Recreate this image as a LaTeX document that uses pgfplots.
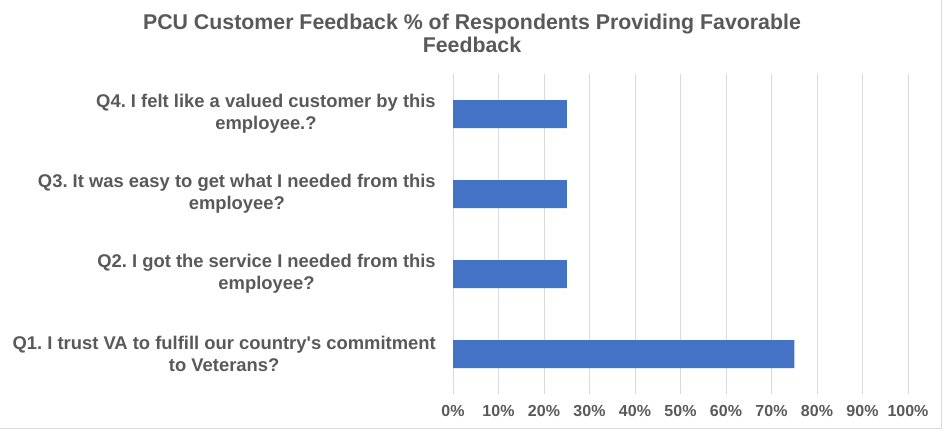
\documentclass[border=0pt]{standalone}
\usepackage{pgfplots}
\pgfplotsset{compat=1.18}
\usepackage{fontspec}
\setmainfont{Liberation Sans}
\frenchspacing
\definecolor{txt}{HTML}{595959}
\definecolor{grd}{HTML}{D9D9D9}
\definecolor{barc}{HTML}{4472C4}
\begin{document}
\begin{tikzpicture}[x=0.75pt,y=0.75pt]
\path[use as bounding box] (0,0) rectangle (944,430);
\draw[grd, line width=0.75pt] (941,430) -- (941,2) -- (0,2);
\node[font=\bfseries\fontsize{16}{17.5}\selectfont, text=txt, align=center] at (472,396.5) {PCU Customer Feedback \% of Respondents Providing Favorable\\Feedback};
\begin{axis}[
  at={(339.75pt,27pt)}, anchor=south west, scale only axis,
  width=341.25pt, height=240pt,
  xbar, bar width=21pt,
  xmin=0, xmax=100, ymin=-0.5, ymax=3.5,
  ytick={0,1,2,3},
  yticklabels={{Q1. I trust VA to fulfill our country\textquotesingle s commitment\\to Veterans?},
               {Q2. I got the service I needed from this\\employee?},
               {Q3. It was easy to get what I needed from this\\employee?},
               {Q4. I felt like a valued customer by this\\employee.?}},
  xtick={0,10,...,100},
  xticklabels={0\%,10\%,20\%,30\%,40\%,50\%,60\%,70\%,80\%,90\%,100\%},
  xmajorgrids, grid style={grd, line width=0.75pt},
  axis line style={draw=none},
  major tick length=0pt,
  tick label style={font=\bfseries\fontsize{12}{16.5}\selectfont, text=txt},
  yticklabel style={font=\bfseries\fontsize{13.8}{16.5}\selectfont, align=center, inner sep=0pt, xshift=-12.75pt},
  xticklabel style={inner sep=0pt, yshift=-8pt},
]
\addplot[fill=barc, draw=none] coordinates {(75,0) (25,1) (25,2) (25,3)};
\end{axis}
\end{tikzpicture}
\end{document}
